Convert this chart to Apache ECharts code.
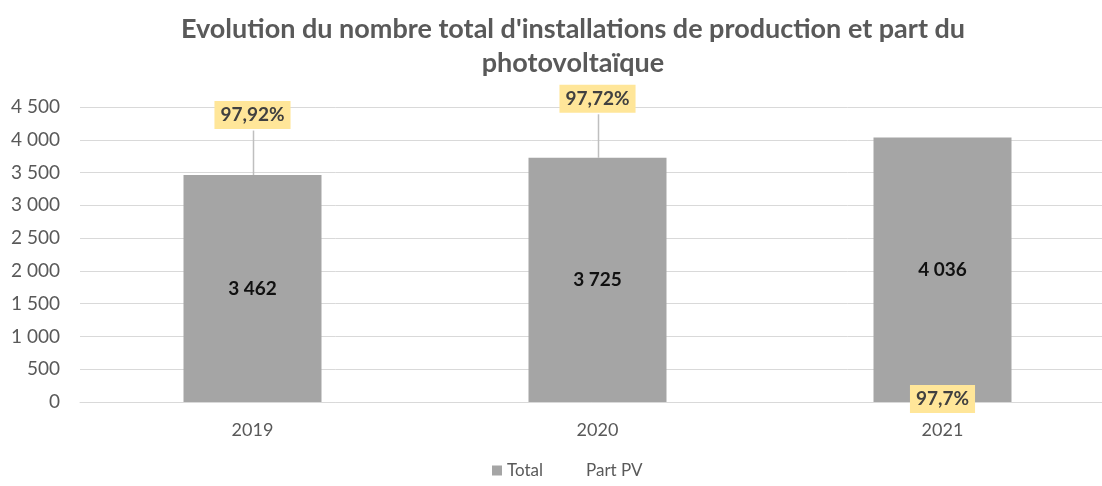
<!DOCTYPE html>
<html>
<head>
<meta charset="utf-8">
<script src="https://cdn.jsdelivr.net/npm/echarts@6/dist/echarts.min.js"></script>
<style>
  html, body { margin: 0; padding: 0; background: #ffffff; }
  #chart { width: 1102px; height: 486px; }
</style>
</head>
<body>
<div id="chart"></div>
<script>
// Years shown on the category axis
const years = ['2019', '2020', '2021'];
// Total number of production installations
const totals = [3462, 3725, 4036];
// Photovoltaic share, in percent
const partPV = [97.92, 97.72, 97.7];
// Value axis ticks
const yMin = 0;
const yMax = 4500;
const yStep = 500;

// Callout lift (px above the bar top) for each share label; null keeps it on its point
const calloutLift = [60, 59, null];

const FONT = 'Lato, "Liberation Sans", sans-serif';
const GREY_TEXT = '#595959';

function spaced(n) {
  return String(n).replace(/\B(?=(\d{3})+(?!\d))/g, ' ');
}
function percentFr(v) {
  return String(v).replace('.', ',') + '%';
}

const chart = echarts.init(document.getElementById('chart'), null, { renderer: 'canvas' });

const option = {
  animation: false,
  backgroundColor: '#ffffff',
  title: {
    text: "Evolution du nombre total d'installations de production et part du\nphotovoltaïque",
    left: 568,
    textAlign: 'center',
    top: 7,
    textStyle: {
      fontFamily: FONT,
      fontWeight: 'bold',
      fontSize: 27,
      lineHeight: 34,
      color: GREY_TEXT
    }
  },
  legend: {
    bottom: 2,
    left: 487,
    itemWidth: 10,
    itemHeight: 10,
    itemGap: 28,
    textStyle: { fontFamily: FONT, fontSize: 17, color: GREY_TEXT },
    data: [
      { name: 'Total', icon: 'rect' },
      { name: 'Part PV', icon: 'none' }
    ]
  },
  // the plot area runs past the right edge of the canvas
  grid: {
    left: 80, top: 107, width: 1035, height: 295,
    containLabel: false,
    outerBoundsMode: 'none'
  },
  xAxis: {
    type: 'category',
    data: years,
    axisLine: { lineStyle: { color: '#d9d9d9' } },
    axisTick: { show: false },
    axisLabel: { fontFamily: FONT, fontSize: 18, color: GREY_TEXT, margin: 19 }
  },
  yAxis: {
    type: 'value',
    min: yMin,
    max: yMax,
    interval: yStep,
    axisLine: { show: false },
    axisTick: { show: false },
    splitLine: { lineStyle: { color: '#d9d9d9', width: 1 } },
    axisLabel: {
      fontFamily: FONT, fontSize: 19, color: GREY_TEXT, margin: 20,
      formatter: v => spaced(v)
    }
  },
  series: [
    {
      name: 'Total',
      type: 'bar',
      data: totals,
      barWidth: '40%',
      itemStyle: { color: '#a5a5a5' },
      label: {
        show: true,
        position: 'inside',
        fontFamily: FONT,
        fontWeight: 'bold',
        fontSize: 19,
        color: '#111111',
        formatter: p => spaced(p.value)
      },
      z: 2
    },
    {
      name: 'Part PV',
      type: 'custom',
      z: 5,
      itemStyle: { color: '#ffe699' },
      data: years.map((y, i) => [i, partPV[i], totals[i]]),
      renderItem: function (params, api) {
        const i = api.value(0);
        const pct = api.value(1);
        const total = api.value(2);
        // the share is plotted as a fraction on the count axis, so it sits at the baseline
        const pt = api.coord([i, pct / 100]);
        const barTop = api.coord([i, total]);
        const lift = calloutLift[i];
        const boxH = 31;
        const children = [];
        let ly = pt[1] - 3;
        if (lift != null) {
          ly = barTop[1] - lift;
          children.push({
            type: 'line',
            shape: { x1: pt[0] + 1, y1: ly + boxH / 2, x2: pt[0] + 1, y2: barTop[1] },
            style: { stroke: '#bfbfbf', lineWidth: 1.5 }
          });
        }
        children.push({
          type: 'text',
          x: pt[0],
          y: ly,
          style: {
            text: percentFr(pct),
            align: 'center',
            verticalAlign: 'middle',
            font: 'bold 19px ' + FONT,
            fill: '#404040',
            backgroundColor: '#ffe699',
            padding: [5, 6, 4, 6]
          }
        });
        return { type: 'group', children: children };
      }
    }
  ]
};

chart.setOption(option);
</script>
</body>
</html>
